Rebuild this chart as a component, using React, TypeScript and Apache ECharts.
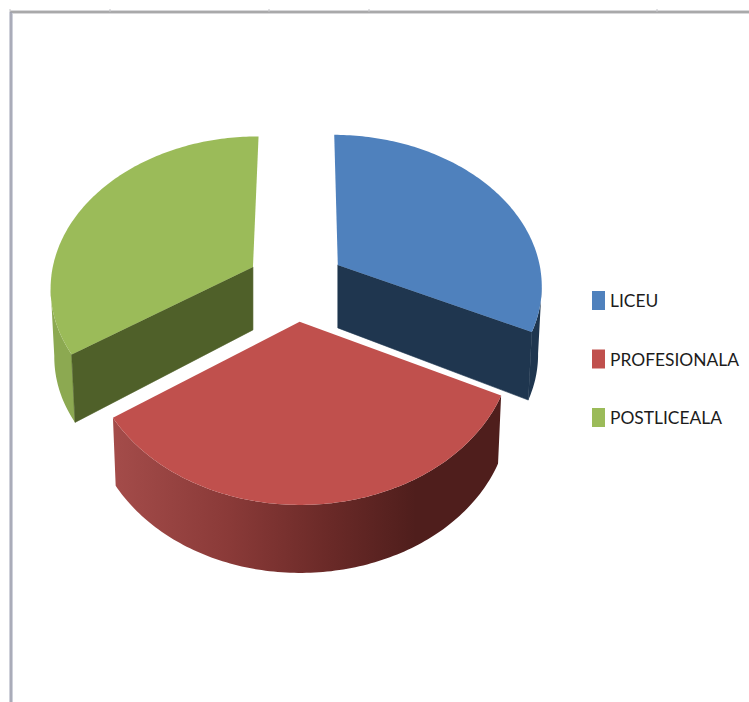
import React, { useEffect, useRef } from "react";
import * as echarts from "echarts";

const categories = ["LICEU", "PROFESIONALA", "POSTLICEALA"];
const shares = [32.1, 33.4, 34.5];
const topColors = ["#4F81BD", "#C0504D", "#9BBB59"];
const innerWallColors = ["#1F364F", "#7A2F2D", "#4F6029"];

const startAngle = 0.3;
const CX = 296, CY = 284, RX_RIGHT = 205, RX_LEFT = 203, RY = 150.5, PERSP = 0.123;
const EXPLODE = 0.244, RIM_DEPTH = 68, APEX_DEPTH = 63, BOTTOM_X = 0.985;
const tickXs = [10, 110, 269, 369, 657];

const rad = (d: number) => (d * Math.PI) / 180;
const total = shares.reduce((a, b) => a + b, 0);

function project(U: number, V: number) {
  const w = 1 / (1 - PERSP * V);
  return [CX + (U < 0 ? RX_LEFT : RX_RIGHT) * U * w, CY + RY * V * w];
}

function lowered(p: number[]) {
  return [CX + (p[0] - CX) * BOTTOM_X, p[1] + RIM_DEPTH];
}

function outerWallFill(index: number) {
  if (index === 0) return "#1F364F";
  if (index === 2) return "#8CA951";
  return new echarts.graphic.LinearGradient(0, 0, 1, 0, [
    { offset: 0, color: "#A44C4A" },
    { offset: 0.3, color: "#8A3A38" },
    { offset: 0.55, color: "#6B2A28" },
    { offset: 0.78, color: "#4F1E1C" },
    { offset: 1, color: "#4F1E1C" },
  ]);
}

function renderSlice(index: number) {
  return (_params: any, api: any) => {
    const value = api.value(0) as number;
    const before = shares.slice(0, index).reduce((a, b) => a + b, 0);
    const a0 = startAngle + (before / total) * 360;
    const a1 = a0 + (value / total) * 360;
    const mid = (a0 + a1) / 2;
    const ou = EXPLODE * Math.sin(rad(mid));
    const ov = -EXPLODE * Math.cos(rad(mid));
    const rim: number[][] = [];
    const n = Math.ceil(a1 - a0);
    for (let i = 0; i <= n; i++) {
      const a = a0 + ((a1 - a0) * i) / n;
      rim.push(project(ou + Math.sin(rad(a)), ov - Math.cos(rad(a))));
    }
    // The visible outer wall runs from the rim's widest point towards the viewer.
    let widest = 0;
    rim.forEach((p, i) => {
      if (Math.abs(p[0] - CX) > Math.abs(rim[widest][0] - CX)) widest = i;
    });
    const front = mid < 90 ? rim.slice(widest) : mid > 270 ? rim.slice(0, widest + 1) : rim;
    const apex = project(ou, ov);
    const apexLow = [apex[0], apex[1] + APEX_DEPTH];
    const children: any[] = [];

    children.push({
      type: "polygon",
      shape: { points: [...front, ...front.slice().reverse().map(lowered)] },
      style: { fill: outerWallFill(index) },
    });
    if (index === 0) {
      const end = rim[rim.length - 1];
      children.push({
        type: "polygon",
        shape: { points: [apex, end, lowered(end), apexLow] },
        style: { fill: innerWallColors[index], stroke: innerWallColors[index], lineWidth: 0.6 },
      });
    }
    if (index === 2) {
      const start = rim[0];
      children.push({
        type: "polygon",
        shape: { points: [apex, start, lowered(start), apexLow] },
        style: { fill: innerWallColors[index], stroke: innerWallColors[index], lineWidth: 0.6 },
      });
    }
    children.push({
      type: "polygon",
      shape: { points: [apex, ...rim] },
      style: { fill: topColors[index] },
    });
    return { type: "group", children };
  };
}

export default function App() {
  const ref = useRef<HTMLDivElement>(null);
  useEffect(() => {
    document.body.style.margin = "0";
    document.body.style.background = "#fff";
    const chart = echarts.init(ref.current!, undefined, { renderer: "svg" });
    chart.setOption({
      animation: false,
      backgroundColor: "#ffffff",
      legend: {
        orient: "vertical",
        left: 592,
        top: 291,
        padding: 0,
        itemWidth: 13,
        itemHeight: 19,
        itemGap: 39.5,
        icon: "rect",
        data: categories,
        textStyle: {
          fontFamily: "Lato, 'Liberation Sans', sans-serif",
          fontSize: 17.4,
          color: "#1c1c1c",
        },
      },
      graphic: [
        { type: "line", shape: { x1: 10, y1: 12, x2: 749, y2: 12 }, style: { stroke: "#d8d8da", lineWidth: 4 }, silent: true },
        { type: "line", shape: { x1: 11, y1: 12, x2: 11, y2: 702 }, style: { stroke: "#cfd1da", lineWidth: 4 }, silent: true },
        { type: "line", shape: { x1: 10, y1: 12, x2: 749, y2: 12 }, style: { stroke: "#9a9a9a", lineWidth: 1.6 }, silent: true },
        { type: "line", shape: { x1: 11, y1: 12, x2: 11, y2: 702 }, style: { stroke: "#a0a2b0", lineWidth: 1.6 }, silent: true },
        ...tickXs.map((x) => ({
          type: "line",
          shape: { x1: x, y1: 9, x2: x, y2: 12 },
          style: { stroke: "#c4c4c8", lineWidth: 1 },
          silent: true,
        })),
      ],
      series: categories.map((name, i) => ({
        type: "custom",
        name,
        coordinateSystem: "none",
        itemStyle: { color: topColors[i] },
        data: [[shares[i]]],
        renderItem: renderSlice(i),
      })),
    });
    return () => chart.dispose();
  }, []);
  return <div ref={ref} style={{ position: "absolute", left: 0, top: 0, width: 749, height: 702 }} />;
}
